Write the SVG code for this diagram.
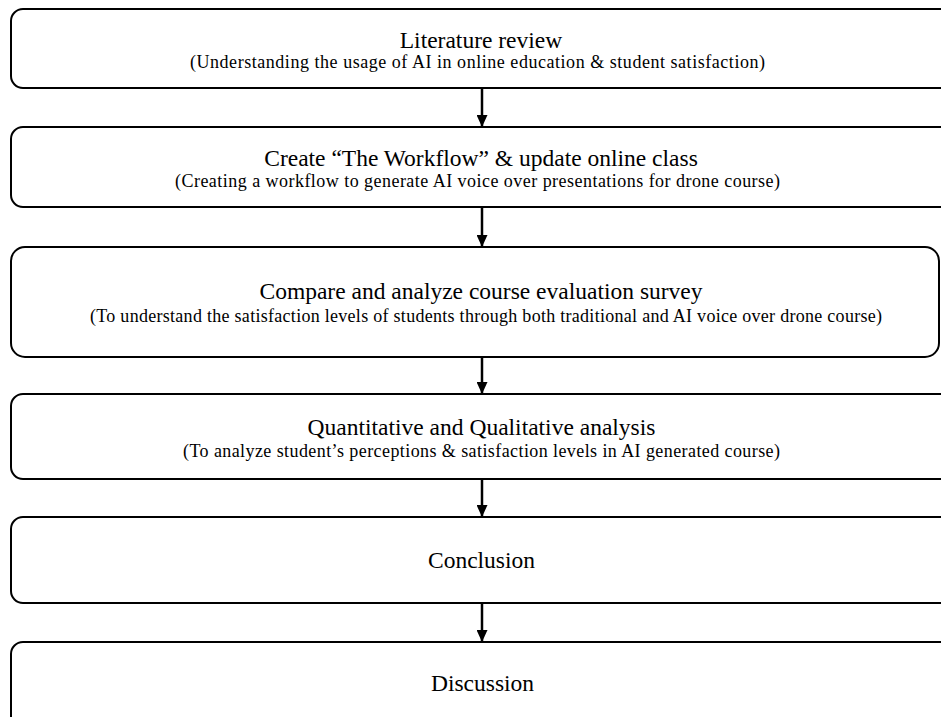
<svg xmlns="http://www.w3.org/2000/svg" width="941" height="717" viewBox="0 0 941 717">
<style>
.box{fill:#fff;stroke:#000;stroke-width:2}
.t{font-family:"Liberation Serif","Times New Roman",serif;font-size:23.5px;fill:#000;text-anchor:middle}
.s{font-family:"Liberation Serif","Times New Roman",serif;font-size:18px;fill:#000;text-anchor:middle}
.c{stroke:#000;stroke-width:2.5;fill:none}
</style>
<defs>
<marker id="ah" markerWidth="12" markerHeight="11" refX="12" refY="5.5" orient="auto" markerUnits="userSpaceOnUse" viewBox="0 0 12 11">
<path d="M0,0 L12,5.5 L0,11 Z" fill="#000"/>
</marker>
</defs>
<rect width="941" height="717" fill="#fff"/>
<g id="n1"><rect class="box" x="11" y="9" width="945" height="79" rx="12"/>
<text class="t" x="481" y="48">Literature review</text>
<text class="s" x="477.5" y="68" textLength="575" lengthAdjust="spacing">(Understanding the usage of AI in online education &amp; student satisfaction)</text></g>
<g id="n2"><rect class="box" x="11" y="127" width="945" height="80" rx="12"/>
<text class="t" x="481" y="166">Create “The Workflow” &amp; update online class</text>
<text class="s" x="477.5" y="187" textLength="605" lengthAdjust="spacing">(Creating a workflow to generate AI voice over presentations for drone course)</text></g>
<g id="n3"><rect class="box" x="11" y="247" width="928" height="110" rx="14"/>
<text class="t" x="481" y="299">Compare and analyze course evaluation survey</text>
<text class="s" x="486" y="322" textLength="792" lengthAdjust="spacing">(To understand the satisfaction levels of students through both traditional and AI voice over drone course)</text></g>
<g id="n4"><rect class="box" x="11" y="394" width="945" height="85" rx="12"/>
<text class="t" x="481.5" y="435">Quantitative and Qualitative analysis</text>
<text class="s" x="481.5" y="457" textLength="597" lengthAdjust="spacing">(To analyze student’s perceptions &amp; satisfaction levels in AI generated course)</text></g>
<g id="n5"><rect class="box" x="11" y="517" width="945" height="86" rx="12"/>
<text class="t" x="481.5" y="568">Conclusion</text></g>
<g id="n6"><rect class="box" x="11" y="642" width="945" height="90" rx="12"/>
<text class="t" x="482.5" y="691">Discussion</text></g>
<g id="connectors">
<line class="c" x1="482" y1="88" x2="482" y2="127" marker-end="url(#ah)"/>
<line class="c" x1="482" y1="207" x2="482" y2="247" marker-end="url(#ah)"/>
<line class="c" x1="482" y1="357" x2="482" y2="394" marker-end="url(#ah)"/>
<line class="c" x1="482" y1="479" x2="482" y2="517" marker-end="url(#ah)"/>
<line class="c" x1="482" y1="603" x2="482" y2="642" marker-end="url(#ah)"/>
</g>
</svg>
